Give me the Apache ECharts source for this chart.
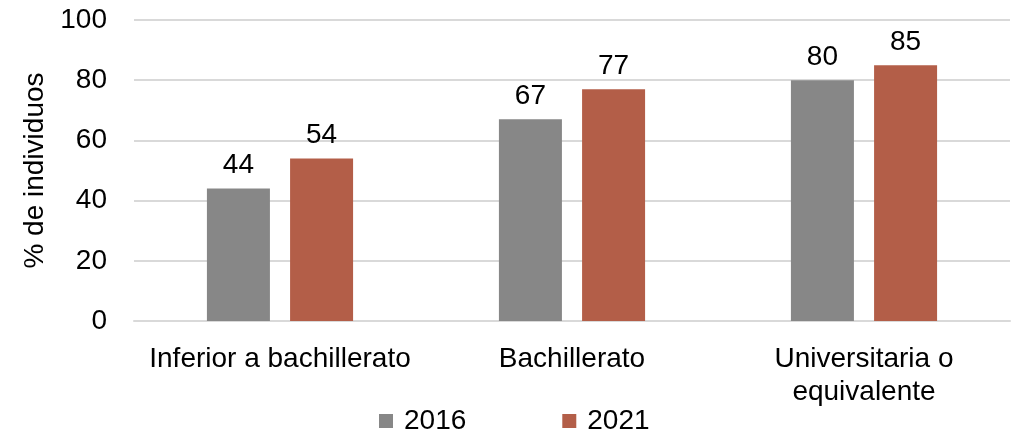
<!DOCTYPE html>
<html>
<head>
<meta charset="utf-8">
<script src="https://cdn.jsdelivr.net/npm/echarts@6/dist/echarts.min.js"></script>
<style>
  html, body { margin: 0; padding: 0; background: #fff; }
  #chart { width: 1018px; height: 436px; }
</style>
</head>
<body>
<div id="chart"></div>
<script>
// Nivel de estudios y porcentaje de individuos, 2016 frente a 2021
const categories = ['Inferior a bachillerato', 'Bachillerato', 'Universitaria o\nequivalente'];
const seriesNames = ['2016', '2021'];
const values2016 = [44, 67, 80];
const values2021 = [54, 77, 85];
const yTicks = { min: 0, max: 100, interval: 20 };
const colors = ['#878787', '#B35E48'];

const FONT = '"Liberation Sans", Arial, Helvetica, sans-serif';
const FS = 28;
const chart = echarts.init(document.getElementById('chart'), null, { renderer: 'canvas' });

function barSeries(name, data, color) {
  return {
    name: name,
    type: 'bar',
    data: data,
    barWidth: 63,
    barGap: '32%',
    itemStyle: { color: color },
    label: {
      show: true,
      position: 'top',
      distance: 9,
      fontFamily: FONT,
      fontSize: FS,
      color: '#000'
    }
  };
}

chart.setOption({
  animation: false,
  textStyle: { fontFamily: FONT },
  grid: { left: 134, right: 8, top: 20, bottom: 115 },
  legend: {
    data: seriesNames,
    top: 402,
    left: 374,
    itemWidth: 14,
    itemHeight: 14,
    itemGap: 96,
    icon: 'rect',
    textStyle: { fontFamily: FONT, fontSize: FS, color: '#000', padding: [0, 0, 0, 6] }
  },
  xAxis: {
    type: 'category',
    data: categories,
    axisLine: { show: true, lineStyle: { color: '#d9d9d9', width: 2 } },
    axisTick: { show: false },
    axisLabel: {
      fontFamily: FONT,
      fontSize: FS,
      color: '#000',
      margin: 22,
      lineHeight: 33,
      interval: 0
    }
  },
  yAxis: {
    type: 'value',
    min: yTicks.min,
    max: yTicks.max,
    interval: yTicks.interval,
    name: '% de individuos',
    nameLocation: 'middle',
    nameGap: 80,
    nameTextStyle: { fontFamily: FONT, fontSize: FS, color: '#000' },
    axisLine: { show: false },
    axisTick: { show: false },
    axisLabel: { fontFamily: FONT, fontSize: FS, color: '#000', margin: 27 },
    splitLine: { lineStyle: { color: '#d9d9d9', width: 2 } }
  },
  series: [
    barSeries(seriesNames[0], values2016, colors[0]),
    barSeries(seriesNames[1], values2021, colors[1])
  ]
});
</script>
</body>
</html>
